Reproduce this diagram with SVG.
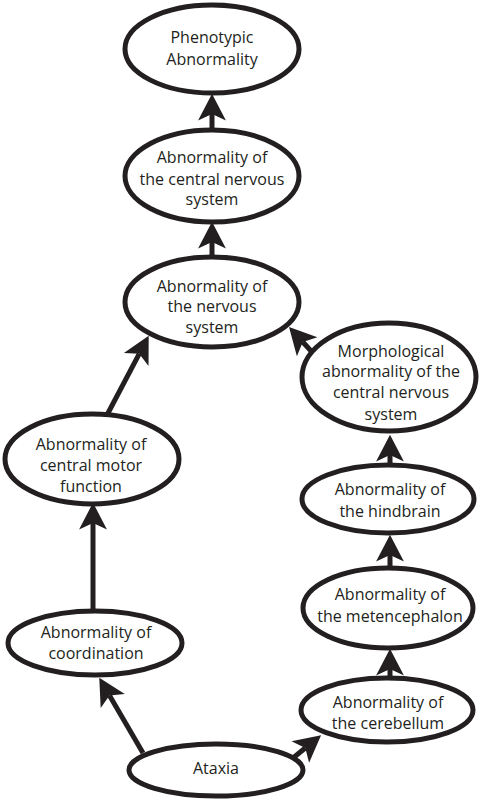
<svg xmlns="http://www.w3.org/2000/svg" width="480" height="800" viewBox="0 0 480 800">
<style>
.n ellipse{fill:#fff;stroke:#231f20;stroke-width:5}
.n text{font-family:"Open Sans","Noto Sans",sans-serif;font-size:16px;fill:#231f20;text-anchor:middle}
.e line{stroke:#231f20;stroke-width:5;marker-end:url(#ah)}
</style>
<defs>
<marker id="ah" markerUnits="userSpaceOnUse" markerWidth="30" markerHeight="30" viewBox="0 -14 26 28" refX="6" refY="0" orient="auto">
<path d="M0,-13 L25,0 L0,13 L6,0 Z" fill="#231f20"/>
</marker>
</defs>
<rect width="480" height="800" fill="#fff"/>
<g id="connectors" class="e">
<line x1="212" y1="131" x2="212" y2="114"/>
<line x1="212" y1="258" x2="212" y2="242"/>
<line x1="107" y1="415" x2="139.2" y2="353.8"/>
<line x1="312" y1="352" x2="302.8" y2="342"/>
<line x1="390" y1="466" x2="390" y2="455"/>
<line x1="390" y1="568" x2="390" y2="555"/>
<line x1="390" y1="678" x2="390" y2="669"/>
<line x1="93" y1="612" x2="93" y2="523"/>
<line x1="143" y1="753" x2="109.5" y2="695.4"/>
<line x1="293" y1="758" x2="305.3" y2="748"/>
</g>
<g id="phenotypic" class="n">
<ellipse cx="212" cy="49" rx="87" ry="44"/>
<text x="212" y="43">Phenotypic</text>
<text x="212" y="65">Abnormality</text>
</g>
<g id="cns" class="n">
<ellipse cx="212" cy="176" rx="87" ry="46"/>
<text x="212" y="163">Abnormality of</text>
<text x="212" y="185">the central nervous</text>
<text x="212" y="205">system</text>
</g>
<g id="nervous" class="n">
<ellipse cx="212" cy="302" rx="87" ry="45"/>
<text x="212" y="292">Abnormality of</text>
<text x="212" y="312">the nervous</text>
<text x="212" y="333">system</text>
</g>
<g id="motor" class="n">
<ellipse cx="92" cy="459" rx="87" ry="45"/>
<text x="91" y="450">Abnormality of</text>
<text x="91" y="471">central motor</text>
<text x="91" y="492">function</text>
</g>
<g id="coordination" class="n">
<ellipse cx="95" cy="643" rx="87" ry="32"/>
<text x="96" y="638">Abnormality of</text>
<text x="96" y="659">coordination</text>
</g>
<g id="ataxia" class="n">
<ellipse cx="216" cy="770" rx="87" ry="26"/>
<text x="216" y="774">Ataxia</text>
</g>
<g id="cerebellum" class="n">
<ellipse cx="387" cy="710" rx="86" ry="32"/>
<text x="388" y="708">Abnormality of</text>
<text x="388" y="729">the cerebellum</text>
</g>
<g id="metencephalon" class="n">
<ellipse cx="388" cy="608" rx="85" ry="40"/>
<text x="390" y="600">Abnormality of</text>
<text x="390" y="622">the metencephalon</text>
</g>
<g id="hindbrain" class="n">
<ellipse cx="388" cy="499" rx="86" ry="34"/>
<text x="390" y="495">Abnormality of</text>
<text x="390" y="517">the hindbrain</text>
</g>
<g id="morphological" class="n">
<ellipse cx="389" cy="377" rx="87" ry="54"/>
<text x="391" y="357">Morphological</text>
<text x="391" y="377">abnormality of the</text>
<text x="391" y="398">central nervous</text>
<text x="391" y="420">system</text>
</g>
</svg>
